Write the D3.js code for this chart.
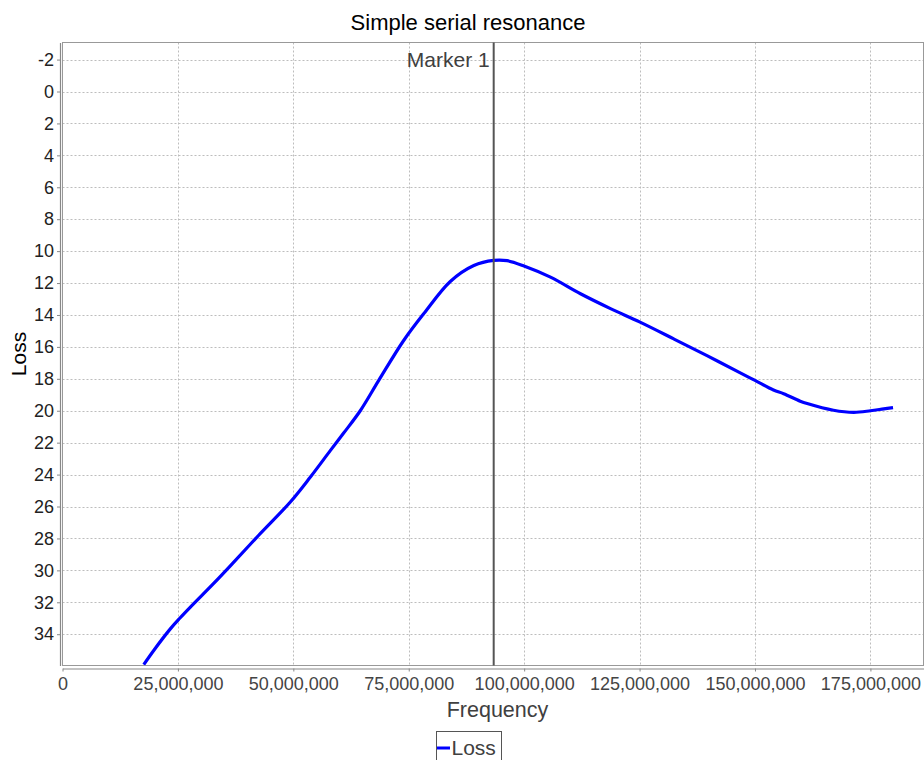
<!DOCTYPE html>
<html>
<head>
<meta charset="utf-8">
<script src="https://cdn.jsdelivr.net/npm/d3@7"></script>
<style>
  html, body { margin: 0; padding: 0; background: #fff; }
  svg { display: block; font-family: "Liberation Sans", Arial, sans-serif; }
</style>
</head>
<body>
<svg id="chart" width="924" height="760"></svg>
<script>
// ---- data ----
const title = "Simple serial resonance";
const seriesName = "Loss";
const frequency = [17.6e6, 19.8e6, 23.4e6, 25.4e6, 27.7e6, 32.8e6, 36.4e6, 42.5e6, 49.4e6, 53.7e6,
  58.0e6, 60.9e6, 64.5e6, 68.5e6, 73.9e6, 78.3e6, 84.0e6, 89.1e6, 93.4e6, 96.3e6,
  100.1e6, 105.7e6, 112.2e6, 118.7e6, 125.1e6, 132.4e6, 139.6e6, 146.6e6, 150.0e6, 154.0e6,
  156.2e6, 159.8e6, 161.3e6, 167.0e6, 171.4e6, 175.0e6, 177.9e6, 179.9e6];
const loss = [35.9, 35.0, 33.65, 33.0, 32.3, 30.8, 29.7, 27.8, 25.7, 24.15,
  22.5, 21.4, 20.0, 18.1, 15.6, 13.9, 11.9, 10.9, 10.58, 10.6,
  10.95, 11.63, 12.67, 13.6, 14.45, 15.5, 16.55, 17.6, 18.1, 18.7,
  18.93, 19.4, 19.55, 19.97, 20.1, 20.0, 19.88, 19.8];
const xTicks = [0, 25e6, 50e6, 75e6, 100e6, 125e6, 150e6, 175e6];
const yTicks = [-2, 0, 2, 4, 6, 8, 10, 12, 14, 16, 18, 20, 22, 24, 26, 28, 30, 32, 34];
const xDomain = [0, 186.5e6];
const yDomain = [-3.07, 35.96];
const markerFreq = 93.4e6;
const markerLabel = "Marker 1";
const xLabel = "Frequency";
const yLabel = "Loss";

// ---- layout ----
const plot = { left: 62.5, right: 923.5, top: 42.5, bottom: 665.5 };
const svg = d3.select("#chart");

const x = d3.scaleLinear().domain(xDomain).range([plot.left, plot.right]);
const y = d3.scaleLinear().domain(yDomain).range([plot.top, plot.bottom]);

// gridlines
const grid = svg.append("g");
grid.selectAll("line.vg").data(xTicks.filter(d => d > 0)).join("line")
  .attr("x1", d => Math.round(x(d)) + 0.5).attr("x2", d => Math.round(x(d)) + 0.5)
  .attr("y1", plot.top).attr("y2", plot.bottom)
  .attr("stroke", "#bdbdbd").attr("stroke-width", 1).attr("stroke-dasharray", "2,2");
grid.selectAll("line.hg").data(yTicks).join("line")
  .attr("x1", plot.left).attr("x2", plot.right)
  .attr("y1", d => Math.round(y(d)) + 0.5).attr("y2", d => Math.round(y(d)) + 0.5)
  .attr("stroke", "#bdbdbd").attr("stroke-width", 1).attr("stroke-dasharray", "2,2");

// plot border
svg.append("rect")
  .attr("x", plot.left).attr("y", plot.top)
  .attr("width", plot.right - plot.left).attr("height", plot.bottom - plot.top)
  .attr("fill", "none").attr("stroke", "#999").attr("stroke-width", 1);

// clip
svg.append("clipPath").attr("id", "clip").append("rect")
  .attr("x", plot.left).attr("y", plot.top)
  .attr("width", plot.right - plot.left).attr("height", plot.bottom - plot.top);

// line
const data = frequency.map((f, i) => ({ f, v: loss[i] }));
const line = d3.line().x(d => x(d.f)).y(d => y(d.v)).curve(d3.curveCatmullRom.alpha(0.5));
svg.append("path").datum(data)
  .attr("clip-path", "url(#clip)")
  .attr("d", line)
  .attr("fill", "none").attr("stroke", "#0000ff").attr("stroke-width", 3.2)
  .attr("stroke-linejoin", "round");

// marker
svg.append("line")
  .attr("x1", x(markerFreq)).attr("x2", x(markerFreq))
  .attr("y1", plot.top).attr("y2", plot.bottom)
  .attr("stroke", "#555").attr("stroke-width", 2);
svg.append("text")
  .attr("x", x(markerFreq) - 4).attr("y", 66.5)
  .attr("text-anchor", "end").attr("font-size", 21).attr("fill", "#404040")
  .text(markerLabel);

// x axis
const xAxis = d3.axisBottom(x).tickValues(xTicks).tickFormat(d3.format(",")).tickSizeInner(3).tickSizeOuter(0).tickPadding(6);
const gx = svg.append("g").attr("transform", `translate(0,${plot.bottom + 3})`).call(xAxis);
gx.select(".domain").attr("stroke", "#888").attr("stroke-width", 1.2);
gx.selectAll(".tick line").attr("stroke", "#888");
gx.selectAll(".tick text").attr("font-size", 18).attr("fill", "#444")
  .attr("font-family", "Liberation Sans, Arial, sans-serif");

// y axis
const yAxis = d3.axisLeft(y).tickValues(yTicks).tickFormat(d => String(d)).tickSizeInner(3).tickSizeOuter(0).tickPadding(3);
const gy = svg.append("g").attr("transform", `translate(${plot.left - 2.5},0)`).call(yAxis);
gy.select(".domain").attr("stroke", "#888").attr("stroke-width", 1.2);
gy.selectAll(".tick line").attr("stroke", "#888");
gy.selectAll(".tick text").attr("font-size", 18).attr("fill", "#222")
  .attr("font-family", "Liberation Sans, Arial, sans-serif");

// title
svg.append("text").attr("x", 468).attr("y", 29.5)
  .attr("text-anchor", "middle").attr("font-size", 22).attr("fill", "#000")
  .text(title);

// axis labels
svg.append("text").attr("x", 497.5).attr("y", 716.5)
  .attr("text-anchor", "middle").attr("font-size", 21.5).attr("fill", "#404040")
  .text(xLabel);
svg.append("text")
  .attr("transform", `translate(25.5,${(plot.top + plot.bottom) / 2}) rotate(-90)`)
  .attr("text-anchor", "middle").attr("font-size", 21).attr("fill", "#000")
  .text(yLabel);

// legend
const lg = svg.append("g");
lg.append("rect").attr("x", 436.5).attr("y", 731.5).attr("width", 65).attr("height", 35)
  .attr("fill", "#fff").attr("stroke", "#555").attr("stroke-width", 1);
lg.append("line").attr("x1", 437).attr("x2", 450).attr("y1", 748).attr("y2", 748)
  .attr("stroke", "#0000ff").attr("stroke-width", 3);
lg.append("text").attr("x", 451.5).attr("y", 754.5).attr("font-size", 21).attr("fill", "#404040")
  .text(seriesName);
</script>
</body>
</html>
